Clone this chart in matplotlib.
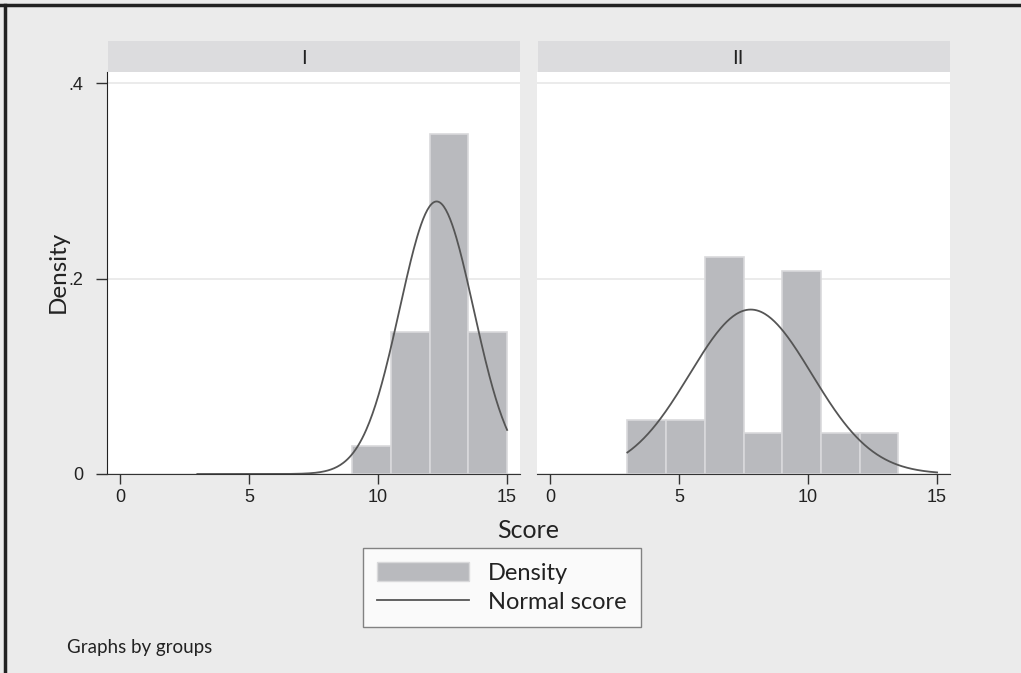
import numpy as np
import matplotlib
matplotlib.use("Agg")
import matplotlib.pyplot as plt
from matplotlib.patches import Patch
from matplotlib.lines import Line2D

plt.rcParams["font.family"] = ["Lato", "DejaVu Sans"]
TICKFONT = "Liberation Sans"

# histogram bins (left edges), width 1.5, densities
bins_I = [9.0, 10.5, 12.0, 13.5]
dens_I = [0.029, 0.145, 0.348, 0.145]
bins_II = [3.0, 4.5, 6.0, 7.5, 9.0, 10.5, 12.0]
dens_II = [0.0556, 0.0556, 0.222, 0.0417, 0.208, 0.0417, 0.0417]
BIN_W = 1.5

# normal overlay: mean, sd per group, drawn over the score range 3..15
norm_I = (12.27, 1.43)
norm_II = (7.78, 2.37)
score_range = (3, 15)

panels = [("I", bins_I, dens_I, norm_I), ("II", bins_II, dens_II, norm_II)]

BG = "#ebebeb"
BAR = "#b9babe"
BAR_EDGE = "#d9d9db"
CURVE = "#555555"
STRIP = "#dcdcde"

W, H = 1021, 673
fig = plt.figure(figsize=(W / 100, H / 100), dpi=100, facecolor=BG)

lefts = [107, 537]
label_x = [304, 738]
for i, (name, bins, dens, (mu, sd)) in enumerate(panels):
    ax = fig.add_axes([lefts[i] / W, (H - 474) / H, 413 / W, 402 / H])
    ax.set_facecolor("white")
    ax.bar(bins, dens, width=BIN_W, align="edge", color=BAR, edgecolor=BAR_EDGE, lw=1.2, zorder=2)
    xs = np.linspace(score_range[0], score_range[1], 300)
    ax.plot(xs, np.exp(-0.5 * ((xs - mu) / sd) ** 2) / (sd * np.sqrt(2 * np.pi)),
            color=CURVE, lw=1.3, zorder=3)
    ax.set_xlim(-0.5, 15.5)
    ax.set_ylim(0, 0.4115)
    ax.set_xticks([0, 5, 10, 15])
    ax.set_yticks([0, 0.2, 0.4])
    ax.set_yticklabels(["0", ".2", ".4"])
    for lab in ax.get_xticklabels() + ax.get_yticklabels():
        lab.set_fontfamily(TICKFONT)
    ax.grid(True, axis="y", color="#e8e8e8", lw=1.2, zorder=0)
    for s in ["top", "right"]:
        ax.spines[s].set_visible(False)
    ax.spines["bottom"].set_color("#333333")
    ax.tick_params(axis="x", length=7, width=1, colors="#333333", labelsize=13,
                   labelcolor="#222222", pad=4)
    ax.tick_params(axis="y", length=8, width=1, colors="#333333", labelsize=13,
                   labelcolor="#222222", pad=9)
    if i == 0:
        ax.spines["left"].set_color("#222222")
    else:
        ax.spines["left"].set_visible(False)
        ax.tick_params(axis="y", left=False, labelleft=False)
    # strip header
    sax = fig.add_axes([(lefts[i] + 1) / W, (H - 72) / H, 412 / W, 31 / H])
    sax.set_facecolor(STRIP)
    sax.set_xticks([])
    sax.set_yticks([])
    for s in sax.spines.values():
        s.set_visible(False)
    fig.text(label_x[i] / W, 1 - 58 / H, name, ha="center", va="center", fontsize=15,
             color="#222222", family=TICKFONT)

fig.text(58 / W, 1 - 272 / H, "Density", rotation=90, ha="center", va="center", fontsize=17.5, color="#222222")
fig.text(528 / W, 1 - 531 / H, "Score", ha="center", va="center", fontsize=18, color="#222222")
fig.text(67 / W, 1 - 648 / H, "Graphs by groups", ha="left", va="center", fontsize=13.5, color="#222222")

handles = [Patch(facecolor=BAR, edgecolor=BAR_EDGE), Line2D([0], [0], color=CURVE, lw=1.3)]
leg = fig.legend(handles, ["Density", "Normal score"], loc="center",
                 bbox_to_anchor=(502 / W, 1 - 587.5 / H), frameon=True, fancybox=False,
                 fontsize=17, handlelength=3.9, handleheight=0.85, labelspacing=0.3,
                 borderpad=0.62, handletextpad=0.8)
leg.get_frame().set_edgecolor("#666666")
leg.get_frame().set_facecolor("white")
leg.get_frame().set_linewidth(1)
for t in leg.get_texts():
    t.set_color("#222222")

# outer frame (top and left edges)
fig.add_artist(Line2D([0, 1], [1 - 4.5 / H, 1 - 4.5 / H], color="#222222", lw=2.5, transform=fig.transFigure))
fig.add_artist(Line2D([5 / W, 5 / W], [0, 1 - 4.5 / H], color="#222222", lw=2.5, transform=fig.transFigure))

fig.savefig("out.png", dpi=100, facecolor=BG)
print("done")
